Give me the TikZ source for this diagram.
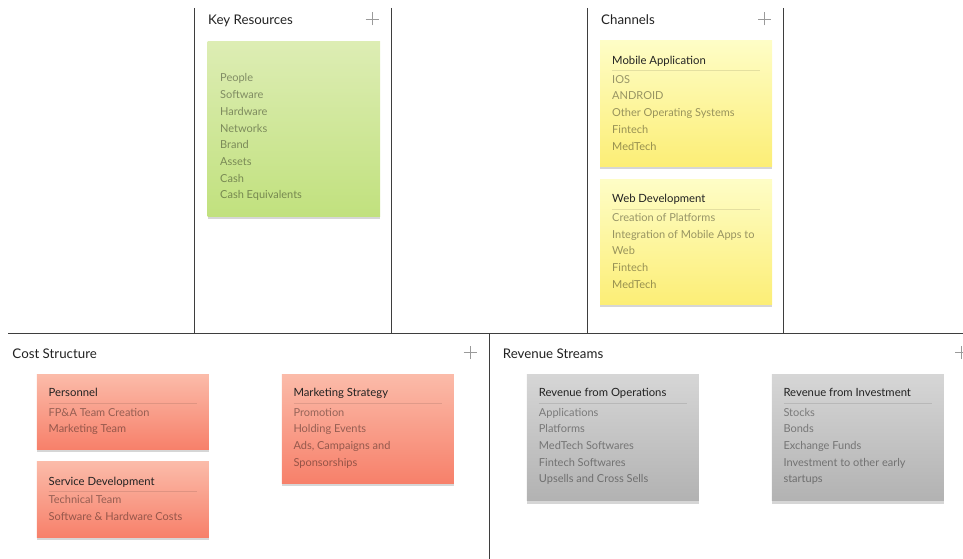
\documentclass[tikz,border=0pt]{standalone}
\usepackage{fontspec}
\setmainfont{Lato}
\usetikzlibrary{shadows}
\definecolor{divider}{HTML}{3E3E3E}
\definecolor{titletext}{HTML}{222222}
\definecolor{plusgray}{HTML}{9A9A9A}
\definecolor{greentop}{HTML}{DDEDB4}
\definecolor{greenbot}{HTML}{C1E17E}
\definecolor{yellowtop}{HTML}{FEFDC6}
\definecolor{yellowbot}{HTML}{FCEE76}
\definecolor{redtop}{HTML}{FBBBA9}
\definecolor{redbot}{HTML}{F7806A}
\definecolor{greytop}{HTML}{D6D6D6}
\definecolor{greybot}{HTML}{B2B2B2}
\tikzset{
  divline/.style={draw=divider, line width=1.3pt},
  card/.style={anchor=north west, inner sep=0pt, minimum width=172pt,
    drop shadow={shadow xshift=0pt, shadow yshift=-2.6pt, opacity=0.32}},
  greencard/.style={card, top color=greentop, bottom color=greenbot},
  yellowcard/.style={card, top color=yellowtop, bottom color=yellowbot},
  redcard/.style={card, top color=redtop, bottom color=redbot},
  greycard/.style={card, top color=greytop, bottom color=greybot},
  header/.style={anchor=base west, inner sep=0pt, font=\fontsize{13.3}{15}\selectfont, text=titletext},
  ctitle/.style={anchor=base west, inner sep=0pt, font=\fontsize{11.3}{14}\selectfont, text=titletext},
  item/.style={anchor=base west, inner sep=0pt, font=\fontsize{11}{13}\selectfont, text=black, text opacity=0.4},
  plussign/.style={draw=plusgray, line width=0.9pt},
  sepline/.style={draw=black, draw opacity=0.1, line width=0.8pt}
}
\begin{document}
\begin{tikzpicture}[x=1pt, y=-1pt]
\useasboundingbox (0,0) rectangle (963,559);
\clip (0,0) rectangle (963,559);

% ---- grid lines ----
\coordinate (hl) at (8,333.3);
\coordinate (hr) at (970,333.3);
\coordinate (v1t) at (194.7,8);  \coordinate (v1b) at (194.7,333.3);
\coordinate (v2t) at (391.5,8);  \coordinate (v2b) at (391.5,333.3);
\coordinate (v3t) at (587.5,8);  \coordinate (v3b) at (587.5,333.3);
\coordinate (v4t) at (783.5,8);  \coordinate (v4b) at (783.5,333.3);
\coordinate (v5t) at (489.5,333.3); \coordinate (v5b) at (489.5,565);
\draw[divline] (hl) -- (hr);
\draw[divline] (v1t) -- (v1b);
\draw[divline] (v2t) -- (v2b);
\draw[divline] (v3t) -- (v3b);
\draw[divline] (v4t) -- (v4b);
\draw[divline] (v5t) -- (v5b);

% ---- headers and plus signs ----
\node[header] (hkr) at (208,25) {Key Resources};
\node[header] (hch) at (601,25) {Channels};
\node[header] (hcs) at (12.3,358) {Cost Structure};
\node[header] (hrs) at (502.7,358) {Revenue Streams};
\coordinate (pkr) at (372,19);
\coordinate (pch) at (764.5,19);
\coordinate (pcs) at (470,352.7);
\coordinate (prs) at (961.5,352.7);
\foreach \p in {pkr,pch,pcs,prs}{
  \draw[plussign] ([xshift=-6.5pt]\p) -- ([xshift=6.5pt]\p);
  \draw[plussign] ([yshift=-6.5pt]\p) -- ([yshift=6.5pt]\p);
}

% ---- Key Resources card ----
\node[greencard, minimum width=172.7pt, minimum height=175pt] (kr) at (207.3,41) {};
\foreach \t [count=\i from 0] in {People,Software,Hardware,Networks,Brand,Assets,Cash,Cash Equivalents}
  \node[item] (kr\i) at (220,{82+16.7*\i}) {\t};

% ---- Channels cards ----
\node[yellowcard, minimum height=125.3pt] (ma) at (600,40.7) {};
\node[ctitle] (mat) at (612,64.3) {Mobile Application};
\draw[sepline] ([xshift=12pt,yshift=-30pt]ma.north west) -- ([xshift=-12pt,yshift=-30pt]ma.north east);
\foreach \t [count=\i from 0] in {IOS,ANDROID,Other Operating Systems,Fintech,MedTech}
  \node[item] (ma\i) at (612,{83.3+16.7*\i}) {\t};

\node[yellowcard, minimum height=125pt] (wd) at (600,179.3) {};
\node[ctitle] (wdt) at (612,202.3) {Web Development};
\draw[sepline] ([xshift=12pt,yshift=-29.7pt]wd.north west) -- ([xshift=-12pt,yshift=-29.7pt]wd.north east);
\foreach \t [count=\i from 0] in {Creation of Platforms,Integration of Mobile Apps to,Web,Fintech,MedTech}
  \node[item] (wd\i) at (612,{221.3+16.7*\i}) {\t};

% ---- Cost Structure cards ----
\node[redcard, minimum height=75pt] (pe) at (36.7,374.3) {};
\node[ctitle] (pet) at (48.5,396.7) {Personnel};
\draw[sepline] ([xshift=12pt,yshift=-29pt]pe.north west) -- ([xshift=-12pt,yshift=-29pt]pe.north east);
\foreach \t [count=\i from 0] in {FP\&A Team Creation,Marketing Team}
  \node[item] (pe\i) at (48.5,{416+16.7*\i}) {\t};

\node[redcard, minimum height=75.6pt] (sd) at (36.7,461.7) {};
\node[ctitle] (sdt) at (48.5,485.7) {Service Development};
\draw[sepline] ([xshift=12pt,yshift=-30pt]sd.north west) -- ([xshift=-12pt,yshift=-30pt]sd.north east);
\foreach \t [count=\i from 0] in {Technical Team,Software \& Hardware Costs}
  \node[item] (sd\i) at (48.5,{503.7+16.7*\i}) {\t};

\node[redcard, minimum height=109pt] (ms) at (281.7,374.3) {};
\node[ctitle] (mst) at (293.3,396.7) {Marketing Strategy};
\draw[sepline] ([xshift=12pt,yshift=-29pt]ms.north west) -- ([xshift=-12pt,yshift=-29pt]ms.north east);
\foreach \t [count=\i from 0] in {Promotion,Holding Events,{Ads, Campaigns and},Sponsorships}
  \node[item] (ms\i) at (293.3,{416+16.7*\i}) {\t};

% ---- Revenue Streams cards ----
\node[greycard, minimum height=126.4pt] (ro) at (526.7,374.3) {};
\node[ctitle] (rot) at (538.7,396.7) {Revenue from Operations};
\draw[sepline] ([xshift=12pt,yshift=-29pt]ro.north west) -- ([xshift=-12pt,yshift=-29pt]ro.north east);
\foreach \t [count=\i from 0] in {Applications,Platforms,MedTech Softwares,Fintech Softwares,Upsells and Cross Sells}
  \node[item] (ro\i) at (538.7,{416+16.7*\i}) {\t};

\node[greycard, minimum height=126.4pt] (ri) at (771.7,374.3) {};
\node[ctitle] (rit) at (783.3,396.7) {Revenue from Investment};
\draw[sepline] ([xshift=12pt,yshift=-29pt]ri.north west) -- ([xshift=-12pt,yshift=-29pt]ri.north east);
\foreach \t [count=\i from 0] in {Stocks,Bonds,Exchange Funds,Investment to other early,startups}
  \node[item] (ri\i) at (783.3,{416+16.7*\i}) {\t};
\end{tikzpicture}
\end{document}
